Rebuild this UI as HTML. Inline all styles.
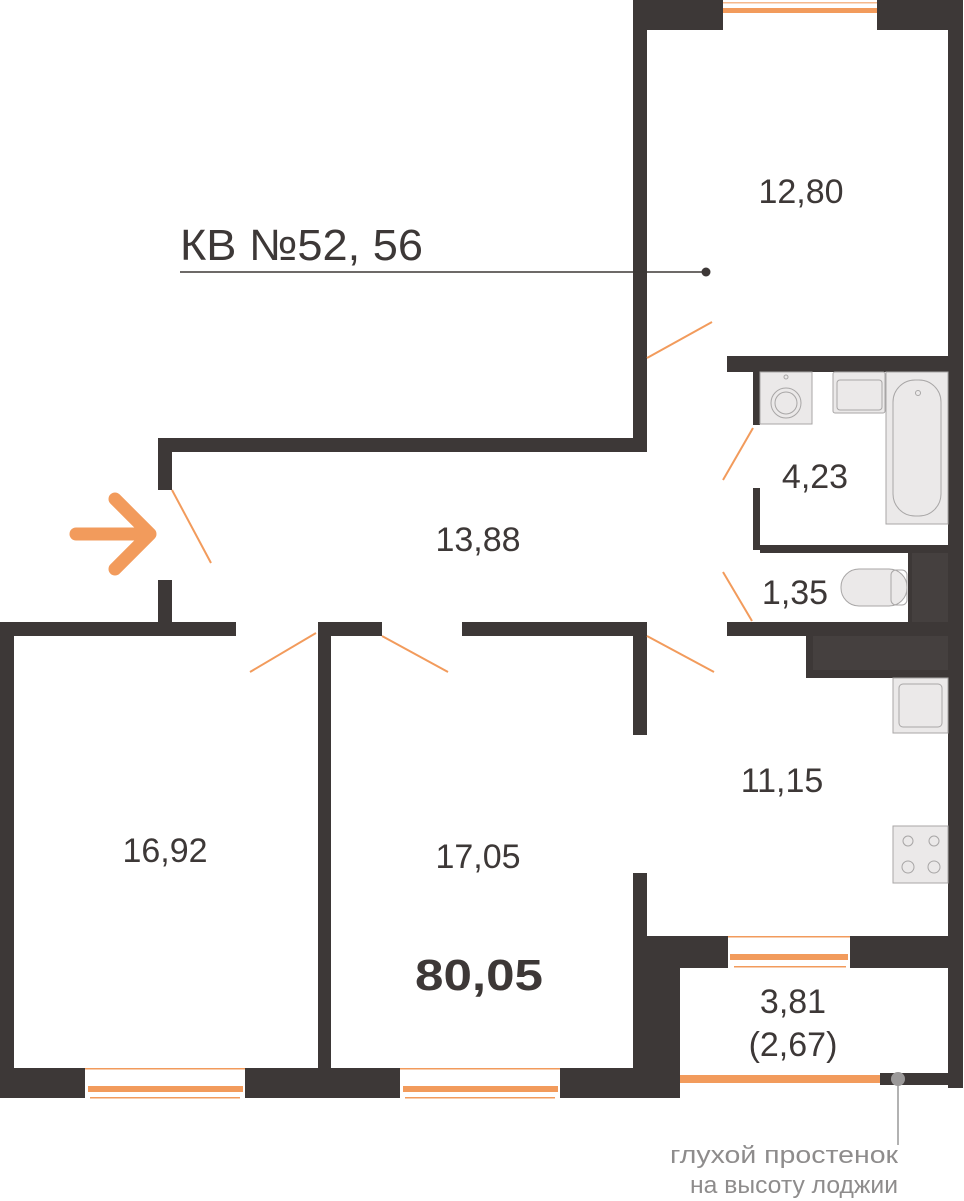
<!DOCTYPE html>
<html><head><meta charset="utf-8"><style>
html,body{margin:0;padding:0;background:#fff;}
svg{display:block}
text{font-family:"Liberation Sans",sans-serif;fill:#3d3837}
</style></head><body>
<svg width="964" height="1201" viewBox="0 0 964 1201" xmlns="http://www.w3.org/2000/svg">
<g fill="#3d3837">
<rect x="633" y="0" width="14" height="452"/>
<rect x="633" y="0" width="90" height="30"/>
<rect x="877" y="0" width="73" height="30"/>
<rect x="948" y="0" width="15" height="1088"/>
<rect x="158" y="438" width="489" height="14"/>
<rect x="158" y="438" width="14" height="52"/>
<rect x="158" y="580" width="14" height="42"/>
<rect x="0" y="622" width="236" height="14"/>
<rect x="318" y="622" width="64" height="14"/>
<rect x="462" y="622" width="185" height="14"/>
<rect x="727" y="622" width="223" height="14"/>
<rect x="0" y="622" width="14" height="476"/>
<rect x="318" y="622" width="13" height="446"/>
<rect x="633" y="622" width="14" height="113"/>
<rect x="633" y="873" width="14" height="225"/>
<rect x="0" y="1068" width="85" height="30"/>
<rect x="245" y="1068" width="155" height="30"/>
<rect x="560" y="1068" width="87" height="30"/>
<rect x="647" y="936" width="81" height="32"/>
<rect x="850" y="936" width="100" height="32"/>
<rect x="647" y="936" width="33" height="162"/>
<rect x="880" y="1073" width="70" height="12"/>
<rect x="727" y="356" width="223" height="16"/>
<rect x="753" y="372" width="7" height="53"/>
<rect x="753" y="488" width="7" height="62"/>
<rect x="760" y="545" width="190" height="8"/>
<rect x="908" y="553" width="40" height="69"/>
<rect x="806" y="636" width="144" height="42"/>
</g>
<rect x="813" y="636" width="135" height="34" fill="#45403f"/>
<rect x="912" y="553" width="36" height="69" fill="#45403f"/>
<g fill="#f29b5c">
<rect x="723" y="8" width="154" height="5"/>
<rect x="723" y="2" width="154" height="1.5" opacity=".7"/>
<rect x="88" y="1086" width="155" height="6"/>
<rect x="85" y="1068" width="160" height="1.5"/>
<rect x="90" y="1097" width="150" height="1.5"/>
<rect x="403" y="1086" width="155" height="6"/>
<rect x="400" y="1068" width="160" height="1.5"/>
<rect x="405" y="1097" width="150" height="1.5"/>
<rect x="730" y="954" width="118" height="6"/>
<rect x="728" y="936" width="122" height="1.5"/>
<rect x="734" y="966" width="112" height="1.5"/>
<rect x="680" y="1075" width="200" height="8"/>
</g>
<g stroke="#f29b5c" stroke-width="2" fill="none">
<line x1="172" y1="490" x2="211" y2="563"/>
<line x1="647" y1="358" x2="712" y2="322"/>
<line x1="753" y1="428" x2="723" y2="480"/>
<line x1="752" y1="621" x2="723" y2="572"/>
<line x1="250" y1="672" x2="316" y2="633"/>
<line x1="382" y1="636" x2="448" y2="672"/>
<line x1="647" y1="636" x2="714" y2="672"/>
</g>
<g stroke="#f29b5c" stroke-width="13" stroke-linecap="round" stroke-linejoin="round" fill="none">
<line x1="76" y1="534" x2="148" y2="534"/>
<polyline points="115,499 150,534 115,569"/>
</g>
<g fill="#ebe9e9" stroke="#a8a6a6" stroke-width="1">
<rect x="760" y="372" width="52" height="52"/>
<circle cx="786" cy="403" r="15" fill="none"/>
<circle cx="786" cy="403" r="11" fill="none"/>
<circle cx="786" cy="377" r="2" fill="none"/>
<rect x="833" y="372" width="52" height="41" rx="2"/>
<rect x="837" y="380" width="45" height="30" rx="3" fill="none"/>
<rect x="886" y="372" width="62" height="152"/>
<rect x="893" y="380" width="48" height="136" rx="22" fill="none"/>
<circle cx="918" cy="393" r="2.5" fill="none"/>
<rect x="841" y="569" width="66" height="37" rx="18"/>
<rect x="891" y="570" width="16" height="35" rx="5" fill="none"/>
<rect x="893" y="678" width="55" height="55"/>
<rect x="899" y="684" width="43" height="43" rx="4" fill="none"/>
<rect x="893" y="826" width="55" height="57"/>
<circle cx="908" cy="841" r="5" fill="none"/><circle cx="934" cy="841" r="5" fill="none"/>
<circle cx="908" cy="867" r="6" fill="none"/><circle cx="934" cy="867" r="6" fill="none"/>
</g>
<line x1="180" y1="272" x2="706" y2="272" stroke="#3d3837" stroke-width="1.5"/>
<circle cx="706" cy="272" r="4.5" fill="#3d3837"/>
<text x="180" y="260" font-size="44" textLength="243" lengthAdjust="spacingAndGlyphs">КВ №52, 56</text>
<g font-size="34" text-anchor="middle">
<text x="801" y="203">12,80</text>
<text x="815" y="488">4,23</text>
<text x="795" y="604">1,35</text>
<text x="478" y="551">13,88</text>
<text x="782" y="792">11,15</text>
<text x="165" y="862">16,92</text>
<text x="478" y="868">17,05</text>
<text x="793" y="1013">3,81</text>
<text x="793" y="1056">(2,67)</text>
</g>
<text x="415" y="990" font-size="44" font-weight="bold" textLength="128" lengthAdjust="spacingAndGlyphs">80,05</text>
<line x1="898" y1="1080" x2="898" y2="1145" stroke="#999" stroke-width="1.5"/>
<circle cx="898" cy="1079" r="7" fill="#9b9999"/>
<g font-size="24">
<text x="670" y="1163" style="fill:#8e8c8c" textLength="228" lengthAdjust="spacingAndGlyphs">глухой простенок</text>
<text x="690" y="1193" style="fill:#8e8c8c" textLength="208" lengthAdjust="spacingAndGlyphs">на высоту лоджии</text>
</g>
</svg>
</body></html>
